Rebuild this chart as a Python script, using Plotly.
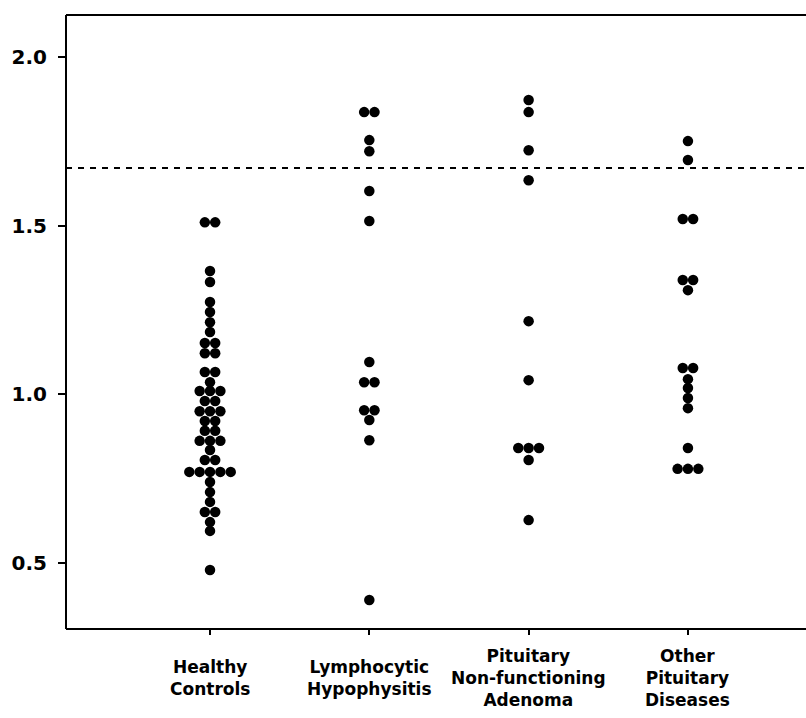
import plotly.graph_objects as go
from collections import Counter

categories = ["Healthy<br>Controls", "Lymphocytic<br>Hypophysitis",
              "Pituitary<br>Non-functioning<br>Adenoma", "Other<br>Pituitary<br>Diseases"]

healthy_controls = [1.51, 1.51, 1.366, 1.333, 1.274, 1.244, 1.214, 1.185, 1.152, 1.152,
                    1.122, 1.122, 1.066, 1.066, 1.036, 1.01, 1.01, 1.01, 0.98, 0.98,
                    0.95, 0.95, 0.95, 0.921, 0.921, 0.892, 0.892, 0.862, 0.862, 0.862,
                    0.835, 0.805, 0.805, 0.77, 0.77, 0.77, 0.77, 0.77, 0.74, 0.71,
                    0.681, 0.651, 0.651, 0.621, 0.595, 0.479]
lymphocytic_hypophysitis = [1.837, 1.837, 1.754, 1.721, 1.603, 1.514, 1.096, 1.036, 1.036,
                            0.953, 0.953, 0.924, 0.864, 0.39]
pituitary_nf_adenoma = [1.873, 1.837, 1.724, 1.635, 1.217, 1.042, 0.841, 0.841, 0.841,
                        0.805, 0.627]
other_pituitary = [1.751, 1.695, 1.52, 1.52, 1.339, 1.339, 1.309, 1.078, 1.078, 1.045,
                   1.019, 0.989, 0.959, 0.841, 0.779, 0.779, 0.779]

cutoff = 1.671
y_ticks = [0.5, 1.0, 1.5, 2.0]
y_tick_text = ["0.5", "1.0", "1.5", "2.0"]

groups = [healthy_controls, lymphocytic_hypophysitis, pituitary_nf_adenoma, other_pituitary]
dx = 0.065  # horizontal spacing of tied points (category units)

xs, ys = [], []
for gi, vals in enumerate(groups):
    counts = Counter(vals)
    for v, n in counts.items():
        for k in range(n):
            xs.append(gi + (k - (n - 1) / 2) * dx)
            ys.append(v)

fig = go.Figure()
fig.add_trace(go.Scatter(x=xs, y=ys, mode="markers",
                         marker=dict(size=10.5, color="black", line=dict(width=0)),
                         showlegend=False, hoverinfo="y"))

fig.add_shape(type="line", xref="paper", yref="y", x0=0, x1=1, y0=cutoff, y1=cutoff,
              line=dict(color="black", width=2, dash="6px,6px"))
# frame lines: top, bottom, left
fig.add_shape(type="line", xref="paper", yref="paper", x0=0, x1=1, y0=1, y1=1,
              line=dict(color="black", width=2))
fig.add_shape(type="line", xref="paper", yref="paper", x0=0, x1=1, y0=0, y1=0,
              line=dict(color="black", width=2))
fig.add_shape(type="line", xref="paper", yref="paper", x0=0, x1=0, y0=0, y1=1,
              line=dict(color="black", width=2))

font_family = "DejaVu Sans"
for i, c in enumerate(categories):
    fig.add_annotation(x=i, xref="x", y=0, yref="paper", yshift=-49,
                       text="<b>%s</b>" % c, showarrow=False,
                       xanchor="center", yanchor="middle", align="center",
                       font=dict(size=17, family=font_family, color="black"))

fig.update_layout(
    width=806, height=718,
    margin=dict(l=66, r=0, t=15, b=89),
    plot_bgcolor="white", paper_bgcolor="white",
    font=dict(family=font_family, color="black"),
    xaxis=dict(
        range=[-0.904, 3.741],
        tickmode="array", tickvals=[0, 1, 2, 3], showticklabels=False,
        showline=False, zeroline=False,
        ticks="outside", ticklen=5, tickwidth=1.5, tickcolor="black",
        showgrid=False,
    ),
    yaxis=dict(
        range=[0.304, 2.125],
        tickmode="array", tickvals=y_ticks, ticktext=["<b>%s</b>" % t for t in y_tick_text],
        showline=False, zeroline=False,
        ticks="outside", ticklen=7, tickwidth=2, tickcolor="black",
        showgrid=False, ticklabelstandoff=7,
        tickfont=dict(size=20, family=font_family),
    ),
)

fig.write_html("out.html")
